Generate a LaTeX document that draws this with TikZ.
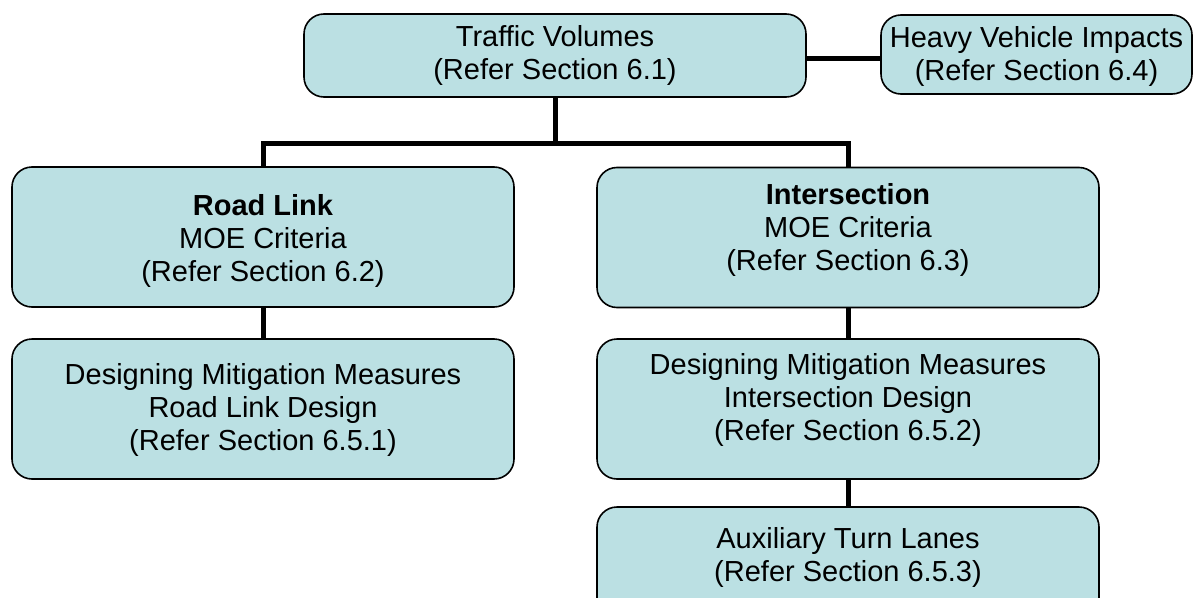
\documentclass[tikz,border=0pt]{standalone}
\usepackage{fontspec}
\setmainfont{Liberation Sans}
\definecolor{boxblue}{RGB}{187,224,227}
\begin{document}
\begin{tikzpicture}[x=1pt,y=-1pt,
  box/.style={draw=black,line width=1.6pt,fill=boxblue,rounded corners=20pt,
    minimum width=502pt,minimum height=140pt,inner sep=0pt,align=center,
    font=\fontsize{29}{33}\selectfont},
  txt/.style={inner sep=0pt,align=center,font=\fontsize{29}{33}\selectfont},
  conn/.style={draw=black,line width=5pt}]
\useasboundingbox (0,0) rectangle (1194,597);
\clip (0,0) rectangle (1194,597);
\node[box,minimum height=83pt] (tv) at (555,55.5) {Traffic Volumes\\(Refer Section 6.1)};
\node[box,minimum width=311pt,minimum height=79pt] (hv) at (1036.5,54.5) {};
\node[txt] (hvtxt) at (1036.5,56.5) {Heavy Vehicle Impacts\\(Refer Section 6.4)};
\node[box] (rl) at (263,237) {};
\node[txt] (rltxt) at (263,240.5) {\textbf{Road Link}\\MOE Criteria\\(Refer Section 6.2)};
\node[box] (is) at (848,237.5) {};
\node[txt] (istxt) at (848,229.5) {\textbf{Intersection}\\MOE Criteria\\(Refer Section 6.3)};
\node[box] (rld) at (263,409) {};
\node[txt] (rldtxt) at (263,410) {Designing Mitigation Measures\\Road Link Design\\(Refer Section 6.5.1)};
\node[box] (isd) at (848,409) {};
\node[txt] (isdtxt) at (848,400) {Designing Mitigation Measures\\Intersection Design\\(Refer Section 6.5.2)};
\node[box] (atl) at (848,577) {};
\node[txt] (atltxt) at (848,557.5) {Auxiliary Turn Lanes\\(Refer Section 6.5.3)};
\coordinate (bus) at (555,143);
\draw[conn] (tv.south) -- (bus);
\draw[conn] (rl.north) |- (bus) -| (is.north);
\draw[conn] ([yshift=-2.5pt]tv.east) -- ([yshift=-3.5pt]hv.west);
\draw[conn] (rl.south) -- (rld.north);
\draw[conn] (is.south) -- (isd.north);
\draw[conn] (isd.south) -- (atl.north);
\end{tikzpicture}
\end{document}
